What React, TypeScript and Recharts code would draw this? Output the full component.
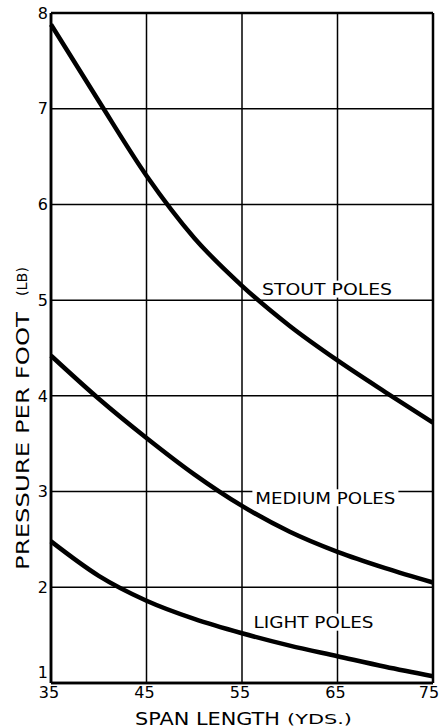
import React from 'react';
import {
  LineChart,
  Line,
  XAxis,
  YAxis,
  CartesianGrid,
  ReferenceDot,
} from 'recharts';

const spans = [35, 40, 45, 50, 55, 60, 65, 70, 75];
const stout = [7.88, 7.08, 6.3, 5.65, 5.15, 4.73, 4.37, 4.04, 3.72];
const medium = [4.42, 3.97, 3.56, 3.18, 2.85, 2.58, 2.37, 2.2, 2.05];
const light = [2.48, 2.12, 1.86, 1.67, 1.52, 1.39, 1.28, 1.17, 1.07];

const xTicks = [35, 45, 55, 65, 75];
const yTicks = [1, 2, 3, 4, 5, 6, 7, 8];

const curveLabels = [
  { text: 'STOUT POLES', x: 57.1, y: 5.11, width: 130 },
  { text: 'MEDIUM POLES', x: 56.4, y: 2.93, width: 140 },
  { text: 'LIGHT POLES', x: 56.2, y: 1.63, width: 120 },
];

const data = spans.map((s, i) => ({
  span: s,
  stout: stout[i],
  medium: medium[i],
  light: light[i],
}));

const FONT = '"DejaVu Sans", "Liberation Sans", sans-serif';

const XTick = ({ x, y, payload }: any) => (
  <text x={x - 2} y={y} dy="0.42em" textAnchor="middle" fontFamily={FONT} fontSize={16} fill="#000">
    {payload.value}
  </text>
);

// the bottom "1" sits a bit higher so it clears the "35" below it
const YTick = ({ x, y, payload }: any) => (
  <text
    x={x}
    y={y}
    dy={payload.value === yTicks[0] ? '-0.3em' : '0.36em'}
    textAnchor="end"
    fontFamily={FONT}
    fontSize={16}
    fill="#000"
  >
    {payload.value}
  </text>
);

// white patch behind the text so grid lines break around it, like the original
const CurveLabel = (text: string, width: number) => (props: any) => {
  const { viewBox } = props;
  return (
    <g>
      <rect x={viewBox.x - 3} y={viewBox.y - 9} width={width + 6} height={17} fill="#fff" />
      <text
        x={viewBox.x}
        y={viewBox.y}
        dominantBaseline="central"
        fontFamily={FONT}
        fontSize={16}
        textLength={width}
        lengthAdjust="spacingAndGlyphs"
        fill="#000"
      >
        {text}
      </text>
    </g>
  );
};

const XTitle = () => (
  <g fontFamily={FONT} fill="#000">
    <text x={135} y={718} dominantBaseline="central" fontSize={18} textLength={145} lengthAdjust="spacingAndGlyphs">
      SPAN LENGTH
    </text>
    <text x={287} y={719} dominantBaseline="central" fontSize={14} textLength={65} lengthAdjust="spacingAndGlyphs">
      (YDS.)
    </text>
  </g>
);

const YTitle = () => (
  <g fontFamily={FONT} fill="#000">
    <text
      transform="translate(22,570) rotate(-90)"
      dominantBaseline="central"
      fontSize={18}
      textLength={258}
      lengthAdjust="spacingAndGlyphs"
    >
      PRESSURE PER FOOT
    </text>
    <text
      transform="translate(22,296) rotate(-90)"
      dominantBaseline="central"
      fontSize={14}
      textLength={29}
      lengthAdjust="spacingAndGlyphs"
    >
      (LB)
    </text>
  </g>
);

export default function App() {
  return (
    <div style={{ width: 439, height: 727, background: '#fff' }}>
      <style>{'body{margin:0;background:#fff}'}</style>
      <LineChart width={439} height={727} data={data} margin={{ top: 13, right: 6, bottom: 0, left: 0 }}>
        <CartesianGrid
          stroke="#000"
          strokeWidth={1.5}
          horizontalValues={[2, 3, 4, 5, 6, 7]}
          verticalValues={[45, 55, 65]}
        />
        {/* heavier frame round the plot */}
        <CartesianGrid stroke="#000" strokeWidth={2.5} horizontalValues={[1, 8]} verticalValues={[35, 75]} />
        <XAxis
          dataKey="span"
          type="number"
          domain={[35, 75]}
          ticks={xTicks}
          height={44}
          tickLine={false}
          tickSize={0}
          tickMargin={8}
          axisLine={{ stroke: '#000', strokeWidth: 2.5 }}
          tick={<XTick />}
          label={{ content: () => <XTitle /> }}
        />
        <YAxis
          type="number"
          domain={[1, 8]}
          ticks={yTicks}
          width={51}
          tickLine={false}
          tickSize={0}
          tickMargin={3}
          axisLine={{ stroke: '#000', strokeWidth: 2.5 }}
          tick={<YTick />}
          label={{ content: () => <YTitle /> }}
        />
        {curveLabels.map((l) => (
          <ReferenceDot
            key={l.text}
            x={l.x}
            y={l.y}
            r={0}
            fill="none"
            stroke="none"
            label={{ content: CurveLabel(l.text, l.width) }}
          />
        ))}
        <Line dataKey="stout" type="monotone" stroke="#000" strokeWidth={4.5} dot={false} isAnimationActive={false} />
        <Line dataKey="medium" type="monotone" stroke="#000" strokeWidth={4.5} dot={false} isAnimationActive={false} />
        <Line dataKey="light" type="monotone" stroke="#000" strokeWidth={4.5} dot={false} isAnimationActive={false} />
      </LineChart>
    </div>
  );
}
